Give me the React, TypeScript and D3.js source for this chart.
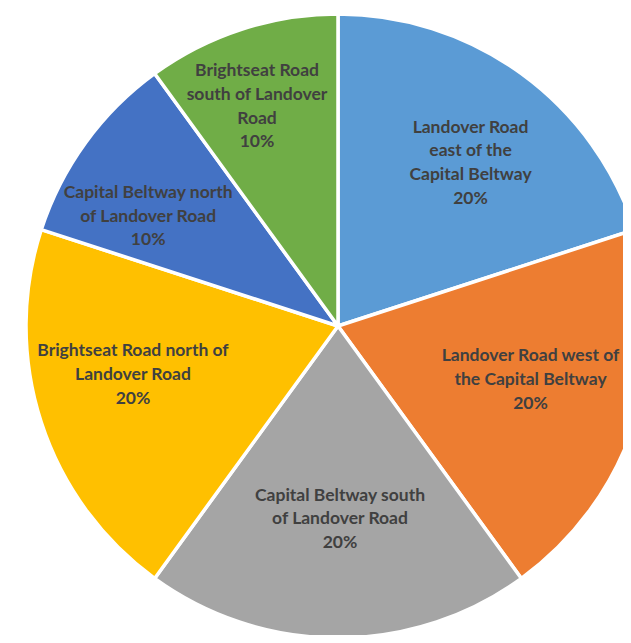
import React, { useEffect, useRef } from 'react';
import * as d3 from 'd3';

const categories = [
  'Landover Road east of the Capital Beltway',
  'Landover Road west of the Capital Beltway',
  'Capital Beltway south of Landover Road',
  'Brightseat Road north of Landover Road',
  'Capital Beltway north of Landover Road',
  'Brightseat Road south of Landover Road',
];
const shares = [20, 20, 20, 20, 10, 10];
const labelLines = [
  ['Landover Road', 'east of the', 'Capital Beltway'],
  ['Landover Road west of', 'the Capital Beltway'],
  ['Capital Beltway south', 'of Landover Road'],
  ['Brightseat Road north of', 'Landover Road'],
  ['Capital Beltway north', 'of Landover Road'],
  ['Brightseat Road', 'south of Landover', 'Road'],
];
const colors = ['#5B9BD5', '#ED7D31', '#A5A5A5', '#FFC000', '#4472C4', '#70AD47'];

// label placement (best-fit like Excel): radius factor and angle nudge in degrees
const labelRadius = [0.675, 0.64, 0.617, 0.675, 0.704, 0.752];
const labelNudge = [3, -2.6, -0.6, 4.8, -5.8, -2.2];

const W = 631;
const H = 643;

export default function App() {
  const ref = useRef<SVGSVGElement>(null);

  useEffect(() => {
    const svg = d3.select(ref.current);
    svg.selectAll('*').remove();
    const cx = 338;
    const cy = 326;
    const R = 312;

    const data = categories.map((name, i) => ({ name, value: shares[i], i }));
    const pie = d3.pie<any>().value((d) => d.value).sort(null);
    const arcs = pie(data);
    const arc = d3.arc<any>().innerRadius(0).outerRadius(R);

    const g = svg.append('g').attr('transform', `translate(${cx},${cy})`);
    g.selectAll('path')
      .data(arcs)
      .enter()
      .append('path')
      .attr('d', arc)
      .attr('fill', (d) => colors[d.data.i])
      .attr('stroke', '#fff')
      .attr('stroke-width', 3.5)
      .attr('stroke-linejoin', 'round');

    const lh = 23.7;
    const labels = g.selectAll('text.lbl')
      .data(arcs)
      .enter()
      .append('text')
      .attr('class', 'lbl')
      .attr('text-anchor', 'middle')
      .attr('font-family', 'Lato, "Open Sans", sans-serif')
      .attr('font-weight', 700)
      .attr('font-size', 17.5)
      .attr('fill', '#404040')
      .attr('transform', (d) => {
        const i = d.data.i;
        const a = (d.startAngle + d.endAngle) / 2 + (labelNudge[i] * Math.PI) / 180;
        const [x, y] = d3.pointRadial(a, R * labelRadius[i]);
        const n = labelLines[i].length + 1;
        return `translate(${x},${y - ((n - 1) * lh) / 2 + 6})`;
      });
    labels.each(function (d) {
      const t = d3.select(this);
      const lines = [...labelLines[d.data.i], d.data.value + '%'];
      lines.forEach((l, k) => {
        t.append('tspan').attr('x', 0).attr('y', k * lh).text(l);
      });
    });
  }, []);

  return <svg ref={ref} width={W} height={H} style={{ display: 'block', margin: -8 }} />;
}
